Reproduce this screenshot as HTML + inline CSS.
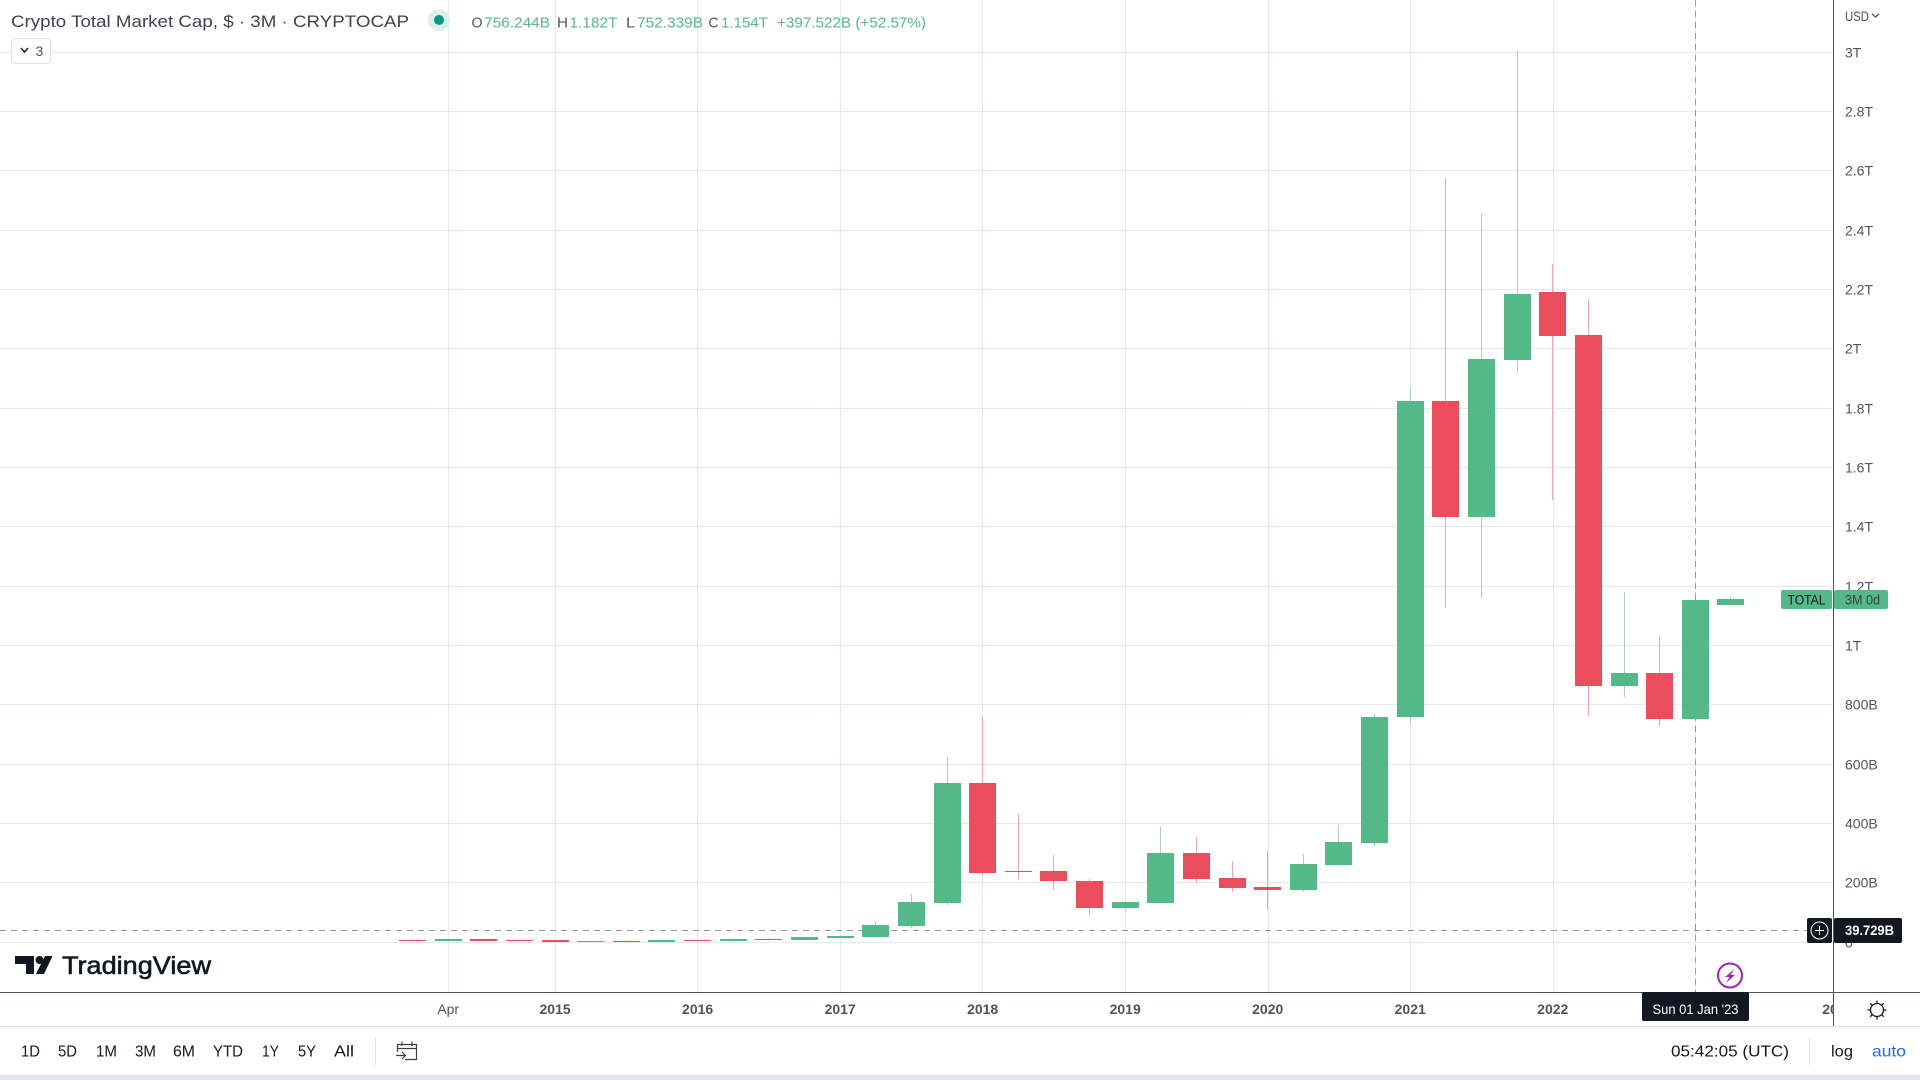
<!DOCTYPE html>
<html lang="en">
<head>
<meta charset="utf-8">
<title>Crypto Total Market Cap chart</title>
<style>
  html, body { margin: 0; padding: 0; background: #fff; width: 1920px; height: 1080px; overflow: hidden; }
  svg { display: block; font-family: "Liberation Sans", Arial, sans-serif; }
  .tick { font-size: 14px; fill: #50535e; }
  .rng { font-size: 16px; fill: #131722; text-anchor: middle; }
  .legend-val { font-size: 15px; fill: #53b987; }
  .legend-let { font-size: 15px; fill: #50535e; }
</style>
</head>
<body>
<svg id="chart" width="1920" height="1080" viewBox="0 0 1920 1080" xmlns="http://www.w3.org/2000/svg">
  <rect x="0" y="0" width="1920" height="1080" fill="#ffffff"/>
  <g id="grid" shape-rendering="crispEdges"></g>
  <g id="candles" shape-rendering="crispEdges"></g>

  <g>
    <g id="price-ticks"></g>
    <text x="1845" y="21" font-size="14" fill="#50535e" textLength="24" lengthAdjust="spacingAndGlyphs">USD</text>
    <path d="M1872 14 L1875.5 17 L1879 14" fill="none" stroke="#50535e" stroke-width="1.3"/>
  </g>

  <g id="time-ticks"></g>

  <line id="crosshair-v" x1="1695.5" y1="0" x2="1695.5" y2="992" stroke="#9598a1" stroke-width="1" stroke-dasharray="6 5" shape-rendering="crispEdges"/>
  <line id="crosshair-h" x1="0" y1="930.5" x2="1807" y2="930.5" stroke="#9598a1" stroke-width="1" stroke-dasharray="6 5" shape-rendering="crispEdges"/>

  <g shape-rendering="crispEdges">
    <rect x="0" y="992" width="1920" height="1" fill="#50535e"/>
    <rect x="0" y="1026" width="1920" height="1" fill="#e0e3eb"/>
    <rect x="1833" y="0" width="1" height="1026" fill="#50535e"/>
  </g>

  <g>
    <rect x="1781" y="590" width="51" height="19" rx="2" fill="#53b987"/>
    <text x="1806.5" y="604.5" font-size="13.5" fill="#131722" text-anchor="middle" textLength="38" lengthAdjust="spacingAndGlyphs">TOTAL</text>
    <rect x="1834" y="590" width="54" height="19" rx="2" fill="#53b987"/>
    <text x="1845" y="604.5" font-size="13.5" fill="#3b3e46" textLength="35" lengthAdjust="spacingAndGlyphs">3M 0d</text>
  </g>

  <g>
    <rect x="1807" y="918" width="25" height="25" rx="2" fill="#131722"/>
    <circle cx="1819.5" cy="930.5" r="8.5" fill="none" stroke="#ffffff" stroke-width="1"/>
    <path d="M1815 930.5 H1824 M1819.5 926 V935" stroke="#ffffff" stroke-width="1"/>
    <rect x="1834" y="918" width="68" height="25" rx="2" fill="#131722"/>
    <text x="1845" y="935" font-size="14" font-weight="700" fill="#ffffff" textLength="49" lengthAdjust="spacingAndGlyphs">39.729B</text>
  </g>

  <g>
    <rect x="1642" y="992" width="107" height="29" rx="2" fill="#131722"/>
    <text x="1695.5" y="1014" font-size="14" fill="#ffffff" text-anchor="middle" textLength="86" lengthAdjust="spacingAndGlyphs">Sun 01 Jan '23</text>
  </g>

  <g>
    <circle cx="1730" cy="975.5" r="12" fill="#fff" stroke="#9c27b0" stroke-width="2"/>
    <path d="M1734.5 969 L1725 977 L1729.5 977 L1726 983 L1735 975 L1730.5 975 Z" fill="#9c27b0"/>
  </g>

  <g fill="none" stroke="#131722" stroke-width="1.3">
    <circle cx="1877" cy="1010" r="6.5"/>
    <path d="M1877 1000.5 V1003 M1877 1017 V1019.5 M1867.5 1010 H1870 M1884 1010 H1886.5 M1870.3 1003.3 L1872 1005 M1882 1015 L1883.7 1016.7 M1870.3 1016.7 L1872 1015 M1882 1005 L1883.7 1003.3"/>
  </g>

  <g>
    <path d="M15 956 H34 V974 H26 V964 H15 Z M45 956 H52.5 L44 974 H36 Z" fill="#131722"/>
    <circle cx="39.5" cy="960" r="4" fill="#131722"/>
    <text x="62" y="974" font-size="25" fill="#131722" stroke="#131722" stroke-width="0.6" textLength="149" lengthAdjust="spacingAndGlyphs">TradingView</text>
  </g>

  <g>
    <text x="11" y="27" font-size="17" fill="#3f434d" textLength="398" lengthAdjust="spacingAndGlyphs">Crypto Total Market Cap, $ · 3M · CRYPTOCAP</text>
    <circle cx="439" cy="20" r="11" fill="#daf0ec"/>
    <circle cx="439" cy="20" r="5" fill="#089981"/>
    <text class="legend-let" x="471.5" y="27.5" textLength="11" lengthAdjust="spacingAndGlyphs">O</text>
    <text class="legend-val" x="484" y="27.5" textLength="66" lengthAdjust="spacingAndGlyphs">756.244B</text>
    <text class="legend-let" x="557" y="27.5" textLength="11" lengthAdjust="spacingAndGlyphs">H</text>
    <text class="legend-val" x="569.5" y="27.5" textLength="48" lengthAdjust="spacingAndGlyphs">1.182T</text>
    <text class="legend-let" x="626" y="27.5" textLength="9" lengthAdjust="spacingAndGlyphs">L</text>
    <text class="legend-val" x="637" y="27.5" textLength="66" lengthAdjust="spacingAndGlyphs">752.339B</text>
    <text class="legend-let" x="708.5" y="27.5" textLength="10" lengthAdjust="spacingAndGlyphs">C</text>
    <text class="legend-val" x="721" y="27.5" textLength="47" lengthAdjust="spacingAndGlyphs">1.154T</text>
    <text class="legend-val" x="777" y="27.5" textLength="149" lengthAdjust="spacingAndGlyphs">+397.522B (+52.57%)</text>
    <rect x="11.5" y="38.5" width="39" height="25" rx="3" fill="#fff" stroke="#e0e3eb"/>
    <path d="M21 48 L24.5 52 L28 48" fill="none" stroke="#131722" stroke-width="1.4"/>
    <text x="35.5" y="56" font-size="14" fill="#50535e">3</text>
  </g>

  <g>
    <text class="rng" x="30.5" y="1056.5" textLength="19" lengthAdjust="spacingAndGlyphs">1D</text>
    <text class="rng" x="67.5" y="1056.5" textLength="19" lengthAdjust="spacingAndGlyphs">5D</text>
    <text class="rng" x="106.5" y="1056.5" textLength="21" lengthAdjust="spacingAndGlyphs">1M</text>
    <text class="rng" x="145.5" y="1056.5" textLength="21" lengthAdjust="spacingAndGlyphs">3M</text>
    <text class="rng" x="184" y="1056.5" textLength="22" lengthAdjust="spacingAndGlyphs">6M</text>
    <text class="rng" x="228" y="1056.5" textLength="30" lengthAdjust="spacingAndGlyphs">YTD</text>
    <text class="rng" x="270.5" y="1056.5" textLength="17" lengthAdjust="spacingAndGlyphs">1Y</text>
    <text class="rng" x="307" y="1056.5" textLength="18" lengthAdjust="spacingAndGlyphs">5Y</text>
    <text class="rng" x="344" y="1056.5" textLength="20" lengthAdjust="spacingAndGlyphs">All</text>
    <rect x="375" y="1037" width="1" height="28" fill="#e0e3eb"/>
    <path d="M397.5 1052 V1044.5 H416.5 V1059.5 H405 M397.5 1048.5 H416.5 M402 1041.5 V1046 M412 1041.5 V1046 M396 1055.5 H405.5 M402 1052 L405.5 1055.5 L402 1059" fill="none" stroke="#3c3f48" stroke-width="1.2"/>
    <text x="1671" y="1056.5" font-size="16" fill="#131722" textLength="118" lengthAdjust="spacingAndGlyphs">05:42:05 (UTC)</text>
    <rect x="1809" y="1037" width="1" height="28" fill="#e0e3eb"/>
    <text x="1831" y="1056.5" font-size="16" fill="#131722" textLength="22" lengthAdjust="spacingAndGlyphs">log</text>
    <text x="1872" y="1056.5" font-size="16" fill="#2962ff" textLength="34" lengthAdjust="spacingAndGlyphs">auto</text>
    <rect x="0" y="1075" width="1920" height="5" fill="#e0e3eb"/>
  </g>

<script>
// Chart data, all prices in billions of USD
const categories = ["Jan 2014","Apr 2014","Jul 2014","Oct 2014","Jan 2015","Apr 2015","Jul 2015","Oct 2015","Jan 2016","Apr 2016","Jul 2016","Oct 2016","Jan 2017","Apr 2017","Jul 2017","Oct 2017","Jan 2018","Apr 2018","Jul 2018","Oct 2018","Jan 2019","Apr 2019","Jul 2019","Oct 2019","Jan 2020","Apr 2020","Jul 2020","Oct 2020","Jan 2021","Apr 2021","Jul 2021","Oct 2021","Jan 2022","Apr 2022","Jul 2022","Oct 2022","Jan 2023","Apr 2023"];
const opens  = [7.8,4.4,11.1,7.8,7.8,1,4.4,1,7.8,4.4,11.1,7.8,14.5,17.9,54.9,132.5,537,240.3,240.3,206.6,115.6,132.5,301,216.7,186.4,176.3,260.6,334.7,759.4,1824.6,1433.6,1962.6,2192,2047.2,864,907.8,754,1137];
const highs  = [11.1,11.1,11.1,7.8,7.8,4.4,7.8,7.8,7.8,14.5,14.5,17.9,24.6,71.8,162.8,624.6,762.8,432.5,294.3,213.4,139.2,388.7,355,274,307.8,297.7,395.4,772.9,1868.4,2576.3,2458.4,3007.8,2286.4,2168.5,1180.8,1032.5,1182,1167];
const lows   = [4.4,4.4,4.4,4.4,1,1,1,1,4.4,4.4,7.8,7.8,14.5,17.9,48.2,125.7,224.5,213.4,176.3,92,105.5,132.5,199.9,169.6,108.9,169.6,257.2,321.2,735.8,1126.9,1161.6,1922.4,1490.9,762.8,826.9,729.1,752.3,1137];
const closes = [4.4,11.1,4.4,4.4,1,4.4,1,7.8,4.4,11.1,7.8,17.9,21.2,58.3,135.8,537,233.6,237,206.6,115.6,135.8,301,213.4,183,176.3,263.9,338.1,759.4,1824.6,1433.6,1966,2185.3,2043.8,864,907.8,754,1154,1157];
const priceTickValues = [0,200,400,600,800,1000,1200,1400,1600,1800,2000,2200,2400,2600,2800,3000];
const priceTickLabels = ["0","200B","400B","600B","800B","1T","1.2T","1.4T","1.6T","1.8T","2T","2.2T","2.4T","2.6T","2.8T","3T"];
const timeTickIndexes = [1,4,8,12,16,20,24,28,32,36,40];
const timeTickLabels  = ["Apr","2015","2016","2017","2018","2019","2020","2021","2022","2023","2024"];

const SVG_NS = "http://www.w3.org/2000/svg";
function xScale(i) { return 412.585 + 35.63 * i; }
function yScale(v) { return 942.3 - 0.29667 * v; }
function make(tag, attrs) {
  const el = document.createElementNS(SVG_NS, tag);
  for (const k in attrs) el.setAttribute(k, attrs[k]);
  return el;
}

const gridG = document.getElementById("grid");
const candleG = document.getElementById("candles");
const priceG = document.getElementById("price-ticks");
const timeG = document.getElementById("time-ticks");

priceTickValues.forEach(function (v, i) {
  const y = Math.floor(yScale(v));
  const line = make("rect", { x: 0, y: y, width: 1833, height: 1, fill: "#e2eaf1" });
  
  
  gridG.appendChild(line);
  const t = make("text", { class: "tick", x: 1845, y: y + 5.5 });
  
  
  t.textContent = priceTickLabels[i];
  priceG.appendChild(t);
});

timeTickIndexes.forEach(function (idx, i) {
  const x = xScale(idx);
  if (x < 1833) {
    const line = make("rect", { x: Math.floor(x + 0.3), y: 0, width: 1, height: 992, fill: "#e2eaf1" });
    
    
    gridG.appendChild(line);
  }
  const label = timeTickLabels[i];
  if (label === "2023") return;
  const isYear = label !== "Apr";
  const t = make("text", {
    class: "tick", x: x, y: 1014, "text-anchor": "middle",
    "font-weight": isYear ? "700" : "400",
    fill: isYear ? "#50535e" : "#787b86"
  });
  if (label === "2024") t.setAttribute("clip-path", "url(#left-of-axis)");
  
  
  t.textContent = label;
  timeG.appendChild(t);
});

const defs = make("defs", {});
const clip = make("clipPath", { id: "left-of-axis" });
clip.appendChild(make("rect", { x: 0, y: 993, width: 1833, height: 33 }));
defs.appendChild(clip);
document.getElementById("chart").appendChild(defs);

categories.forEach(function (cat, i) {
  const up = closes[i] >= opens[i];
  const cx = Math.floor(xScale(i));
  const topB = Math.round(yScale(Math.max(opens[i], closes[i])));
  const botB = Math.round(yScale(Math.min(opens[i], closes[i])));
  const topW = Math.round(yScale(highs[i]));
  const botW = Math.round(yScale(lows[i]));
  const wick = make("rect", { x: cx, y: topW, width: 1, height: Math.max(botW - topW, 1), fill: up ? "#a8cdcf" : "#f7a3af" });
  
  
  candleG.appendChild(wick);
  const body = make("rect", { x: cx - 13, y: topB, width: 27, height: Math.max(botB - topB, 1), fill: up ? "#53b987" : "#eb4d5c" });
  
  
  const tip = make("title", {});
  tip.textContent = cat;
  body.appendChild(tip);
  candleG.appendChild(body);
});
</script>
</svg>
</body>
</html>
